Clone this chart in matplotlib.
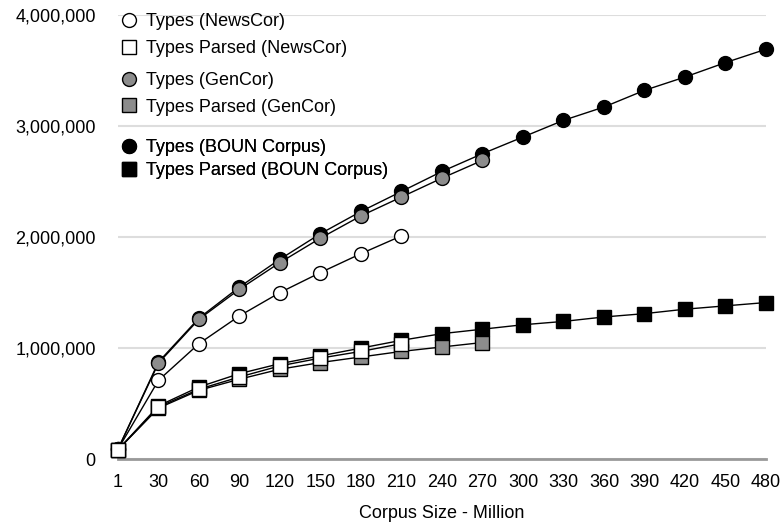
import numpy as np
import matplotlib
import matplotlib.pyplot as plt
from matplotlib.lines import Line2D

matplotlib.use('Agg')

plt.rcParams['font.family'] = ['Liberation Sans', 'DejaVu Sans']

sizes = ['1', '30', '60', '90', '120', '150', '180', '210', '240', '270',
         '300', '330', '360', '390', '420', '450', '480']

# values in word types
news_types = [90000, 710000, 1040000, 1290000, 1500000, 1680000, 1850000, 2010000]
news_parsed = [85000, 470000, 630000, 740000, 840000, 910000, 970000, 1040000]
gen_types = [90000, 865000, 1260000, 1530000, 1770000, 1990000, 2190000, 2360000,
             2530000, 2690000]
gen_parsed = [85000, 460000, 620000, 720000, 810000, 870000, 920000, 970000,
              1010000, 1050000]
boun_types = [90000, 875000, 1270000, 1550000, 1800000, 2030000, 2230000, 2410000,
              2590000, 2750000, 2900000, 3050000, 3170000, 3320000, 3440000,
              3570000, 3690000]
boun_parsed = [85000, 480000, 650000, 770000, 860000, 930000, 1000000, 1070000,
               1130000, 1170000, 1210000, 1240000, 1280000, 1310000, 1350000,
               1380000, 1410000]

series = [
    ('Types (BOUN Corpus)', boun_types, 'o', 'black'),
    ('Types Parsed (BOUN Corpus)', boun_parsed, 's', 'black'),
    ('Types (GenCor)', gen_types, 'o', '#8c8c8c'),
    ('Types Parsed (GenCor)', gen_parsed, 's', '#8c8c8c'),
    ('Types (NewsCor)', news_types, 'o', 'white'),
    ('Types Parsed (NewsCor)', news_parsed, 's', 'white'),
]

fig = plt.figure(figsize=(7.84, 5.29), dpi=100)
ax = fig.add_axes([0.1505, 0.132, 0.8265, 0.84])

handles = {}
for z, (label, vals, mk, fc) in enumerate(series):
    x = np.arange(len(vals))
    ms = 10 if mk == 'o' else 9.5
    ax.plot(x, vals, color='black', lw=1.0, marker=mk, markersize=ms,
            markerfacecolor=fc, markeredgecolor='black', markeredgewidth=1.0,
            clip_on=False, zorder=3 + z)
    handles[label] = Line2D([], [], linestyle='none', marker=mk, markersize=ms,
                            markerfacecolor=fc, markeredgecolor='black',
                            markeredgewidth=1.0)

ax.set_xlim(0, len(sizes) - 1)
ax.set_ylim(0, 4000000)
ax.set_xticks(range(len(sizes)))
ax.set_xticklabels(sizes)
ax.set_yticks([0, 1000000, 2000000, 3000000, 4000000])
ax.set_yticklabels(['0', '1,000,000', '2,000,000', '3,000,000', '4,000,000'])
ax.tick_params(length=0, labelsize=13)
ax.tick_params(axis='x', pad=11)
ax.tick_params(axis='y', pad=16)
ax.set_xlabel('Corpus Size - Million', fontsize=13, labelpad=10)

for s in ['top', 'right', 'left']:
    ax.spines[s].set_visible(False)
ax.spines['bottom'].set_color('#999999')
ax.spines['bottom'].set_linewidth(2)
ax.yaxis.grid(True, color='#dddddd', lw=1.5)
ax.set_axisbelow(True)

groups = [
    (['Types (NewsCor)', 'Types Parsed (NewsCor)'], 1.024, 0.55),
    (['Types (GenCor)', 'Types Parsed (GenCor)'], 0.892, 0.55),
    (['Types (BOUN Corpus)', 'Types Parsed (BOUN Corpus)'], 0.740, 0.33),
]
for labels, ytop, sp in groups:
    leg = ax.legend([handles[l] for l in labels], labels, loc='upper left',
                    bbox_to_anchor=(-0.011, ytop), frameon=False, fontsize=13,
                    handletextpad=0.45, labelspacing=sp, borderpad=0,
                    handlelength=1.0)
    leg.set_zorder(20)
    ax.add_artist(leg)

plt.savefig('out.png', dpi=100)
